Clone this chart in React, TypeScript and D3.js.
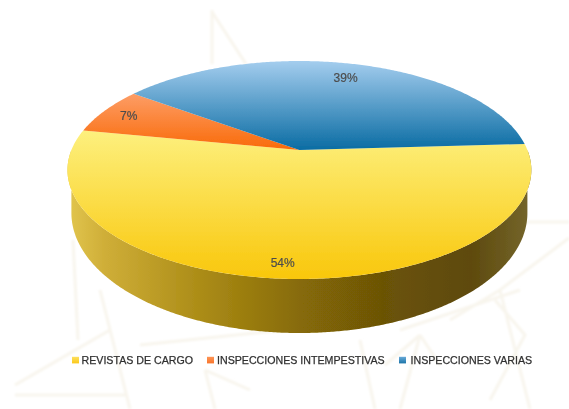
import React from "react";
import * as d3 from "d3";

const categories = ["REVISTAS DE CARGO", "INSPECCIONES INTEMPESTIVAS", "INSPECCIONES VARIAS"];
const values = [54, 7, 39];
const percentLabels = ["54%", "7%", "39%"];
const labelRadius = [0.9, 0.87, 0.815];
const gradTop = ["#fdf07e", "#fd9d66", "#a4cdee"];
const gradBottom = ["#f9c70b", "#f96a08", "#0a6ca3"];
const legendTop = ["#fde060", "#fd9558", "#6aaad8"];
const legendBottom = ["#fbc81a", "#f9752a", "#1a74a8"];

const W = 569, H = 409;
const cx = 299.4, apexY = 150, R = 228;
const persp = -0.1835, vy = 77.8;
const lowerCy = 213, lowerRx = 228, lowerRy = 120;
const startDeg = 86.7;

// projected point of the tilted disc for a pie angle (clockwise from the back)
const project = (t: number, r = 1): [number, number] => {
  const u = r * Math.sin(t), v = -r * Math.cos(t);
  const w = 1 + persp * v;
  return [cx + (R * u) / w, (vy * v + apexY) / w];
};

const pieGen = d3.pie<number>().sort(null).startAngle((startDeg * Math.PI) / 180).endAngle(((startDeg + 360) * Math.PI) / 180);
const arcs = pieGen(values);
const line = d3.line();

const slicePath = (a0: number, a1: number) => {
  const n = Math.ceil((a1 - a0) / 0.01);
  const pts: [number, number][] = [[cx, apexY]];
  d3.range(n + 1).forEach(i => pts.push(project(a0 + ((a1 - a0) * i) / n)));
  return line(pts)! + "Z";
};

// side wall: hull of the top rim and the lower rim
const sidePath = (() => {
  const pts: [number, number][] = [];
  const n = 360;
  d3.range(n + 1).forEach(i => {
    const t = (Math.PI * i) / n;
    pts.push([cx + lowerRx * Math.cos(t), lowerCy + lowerRy * Math.sin(t)]);
  });
  d3.range(n + 1).forEach(i => pts.push(project((Math.PI * 3) / 2 - (Math.PI * i) / n)));
  return line(pts)! + "Z";
})();

const sideStops: [number, string][] = [
  [0, "#e2c64e"], [0.08, "#cfae38"], [0.3, "#a98a15"], [0.5, "#876b07"], [0.68, "#6b5306"], [0.87, "#5e4a0d"], [1, "#75662c"],
];

const watermark = [
  "M212 10 L212 64 M212 12 L246 64",
  "M73 240 L78 340 M100 290 L130 409 M15 385 L110 330 M15 395 L125 395",
  "M140 345 L284 330 M205 370 L215 409 M205 370 L250 390",
  "M420 335 L385 365 M420 335 L440 365 M420 335 L400 409 M360 340 L375 409",
  "M400 330 L520 290 M569 238 L500 290 L450 320 M520 222 L569 222",
  "M500 290 L530 409 M495 300 L525 335 L490 400",
];

const swatchX = [72, 207, 399];
const textX = [81.5, 217, 410.5];

export default function App() {
  return (
    <svg width={W} height={H} style={{ position: "absolute", left: 0, top: 0, background: "#fff" }}
      fontFamily="'Liberation Sans', Arial, sans-serif">
      <defs>
        {arcs.map((a, i) => {
          const ys: number[] = d3.range(61).map(k => project(a.startAngle + ((a.endAngle - a.startAngle) * k) / 60)[1]);
          const yMin = Math.min(...ys, apexY), yMax = Math.max(...ys, apexY);
          return (
            <linearGradient key={i} id={`g${i}`} gradientUnits="userSpaceOnUse" x1={0} x2={0} y1={yMin} y2={yMax}>
              <stop offset="0" stopColor={gradTop[i]} />
              <stop offset="1" stopColor={gradBottom[i]} />
            </linearGradient>
          );
        })}
        <linearGradient id="side" x1="0" x2="1" y1="0" y2="0">
          {sideStops.map(([o, c]) => <stop key={o} offset={o} stopColor={c} />)}
        </linearGradient>
        {categories.map((c, i) => (
          <linearGradient key={c} id={`lg${i}`} x1="0" x2="0" y1="0" y2="1">
            <stop offset="0" stopColor={legendTop[i]} />
            <stop offset="1" stopColor={legendBottom[i]} />
          </linearGradient>
        ))}
        <filter id="soft" x="-5%" y="-5%" width="110%" height="110%"><feGaussianBlur stdDeviation="0.45" /></filter>
        <filter id="wm"><feGaussianBlur stdDeviation="1.2" /></filter>
      </defs>
      <g fill="none" stroke="#f8f5ed" strokeWidth={3} filter="url(#wm)">
        {watermark.map((d, i) => <path key={i} d={d} />)}
      </g>
      <g filter="url(#soft)">
        <path d={sidePath} fill="url(#side)" />
        {arcs.map((a, i) => <path key={i} d={slicePath(a.startAngle, a.endAngle)} fill={`url(#g${i})`} />)}
      </g>
      <g filter="url(#soft)" fontSize={12} fill="#4d4d4d" stroke="#4d4d4d" strokeWidth={0.2} textAnchor="middle">
        {arcs.map((a, i) => {
          const mid = (a.startAngle + a.endAngle) / 2;
          const [x, y] = project(mid, labelRadius[i]);
          return <text key={i} x={x} y={y} dy="0.35em">{percentLabels[i]}</text>;
        })}
      </g>
      <g filter="url(#soft)" fontSize={10.65} fill="#303030">
        {categories.map((c, i) => (
          <g key={c}>
            <rect x={swatchX[i]} y={356.8} width={7} height={6.6} fill={`url(#lg${i})`} />
            <text x={textX[i]} y={364} stroke="#303030" strokeWidth={0.25}>{c}</text>
          </g>
        ))}
      </g>
    </svg>
  );
}
